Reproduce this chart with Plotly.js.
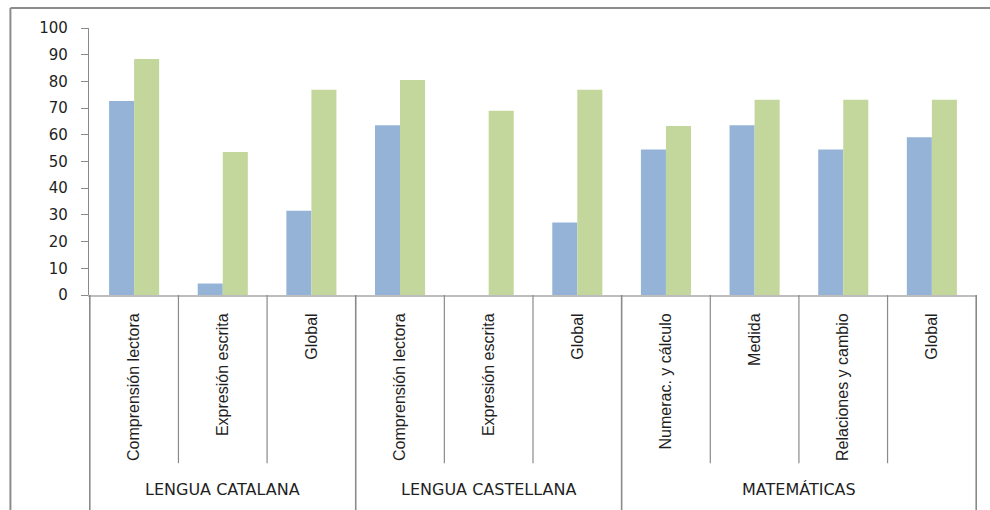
<!DOCTYPE html>
<html>
<head>
<meta charset="utf-8">
<script src="https://cdn.plot.ly/plotly-3.0.1.min.js"></script>
<style>
  html, body { margin: 0; padding: 0; background: #ffffff; }
  #chart { width: 990px; height: 510px; }
</style>
</head>
<body>
<div id="chart"></div>
<script>
// Subject groups and their sub-areas (one bar pair per sub-area)
const groups = ["LENGUA CATALANA", "LENGUA CATALANA", "LENGUA CATALANA",
                "LENGUA CASTELLANA", "LENGUA CASTELLANA", "LENGUA CASTELLANA",
                "MATEMÁTICAS", "MATEMÁTICAS", "MATEMÁTICAS", "MATEMÁTICAS"];
const subjects = ["Comprensión lectora", "Expresión escrita", "Global",
                  "Comprensión lectora", "Expresión escrita", "Global",
                  "Numerac. y cálculo", "Medida", "Relaciones y cambio", "Global"];

// Scores of the two series
const serieA = [72.7, 4.3, 31.6, 63.6, 0, 27.2, 54.5, 63.6, 54.5, 59.1];
const serieB = [88.4, 53.6, 76.9, 80.5, 69.0, 76.9, 63.3, 73.1, 73.1, 73.1];

// Unique category keys so repeated sub-area names stay separate
const keys = subjects.map((s, i) => groups[i] + " | " + s);

const AXIS_GREY = "#8a8a8a";
const TEXT = "#1f1f1f";

const traces = [
  { type: "bar", name: "Serie A", x: keys, y: serieA,
    marker: { color: "#95B3D7", line: { width: 0 } },
    hoverinfo: "y" },
  { type: "bar", name: "Serie B", x: keys, y: serieB,
    marker: { color: "#C3D69B", line: { width: 0 } },
    hoverinfo: "y" }
];

// Separator lines under the category axis: short between sub-areas,
// long at group boundaries
const shapes = [];
for (let i = 0; i <= keys.length; i++) {
  const boundary = (i === 0 || i === keys.length || groups[i] !== groups[i - 1]);
  shapes.push({
    type: "line", xref: "x", yref: "paper",
    x0: i - 0.5, x1: i - 0.5, y0: 0, y1: boundary ? -0.81 : -0.63,
    line: { color: AXIS_GREY, width: boundary ? 1.6 : 1.2 },
    layer: "above"
  });
}
// Chart-area frame (left and top edges)
shapes.push({ type: "line", xref: "paper", yref: "paper",
  x0: -0.0885, x1: -0.0885, y0: -0.82, y1: 1.075,
  line: { color: "#8c8c8c", width: 2 } });
shapes.push({ type: "line", xref: "paper", yref: "paper",
  x0: -0.0885, x1: 1.02, y0: 1.075, y1: 1.075,
  line: { color: "#8c8c8c", width: 2 } });

// Group labels centred under their sub-areas
const annotations = [];
const uniqueGroups = [...new Set(groups)];
uniqueGroups.forEach(g => {
  const idx = groups.map((v, i) => v === g ? i : -1).filter(i => i >= 0);
  const mid = (idx[0] + idx[idx.length - 1]) / 2;
  annotations.push({
    xref: "x", yref: "paper", x: mid, y: -0.73,
    text: g, showarrow: false, xanchor: "center", yanchor: "middle",
    font: { family: "DejaVu Sans, sans-serif", size: 16, color: TEXT }
  });
});

const layout = {
  width: 990, height: 510,
  margin: { l: 89, r: 13, t: 28, b: 215, pad: 0 },
  paper_bgcolor: "#ffffff", plot_bgcolor: "#ffffff",
  showlegend: false,
  barmode: "group", bargap: 0.435, bargroupgap: 0,
  xaxis: {
    type: "category",
    tickvals: keys, ticktext: subjects,
    tickangle: -90, ticks: "", ticklabelstandoff: 10,
    tickfont: { family: "Liberation Sans Narrow, Liberation Sans, sans-serif", size: 16, color: TEXT },
    showline: true, linecolor: "#bdbdbd", linewidth: 2,
    showgrid: false, zeroline: false, fixedrange: true
  },
  yaxis: {
    range: [0, 100], dtick: 10, tick0: 0,
    ticks: "outside", ticklen: 7, tickcolor: AXIS_GREY, tickwidth: 1,
    ticklabelstandoff: 10,
    tickfont: { family: "DejaVu Sans, sans-serif", size: 15, color: TEXT },
    showline: true, linecolor: AXIS_GREY, linewidth: 1.2,
    showgrid: false, zeroline: false, fixedrange: true
  },
  shapes: shapes,
  annotations: annotations
};

Plotly.newPlot("chart", traces, layout, { displayModeBar: false, staticPlot: true });
</script>
</body>
</html>
